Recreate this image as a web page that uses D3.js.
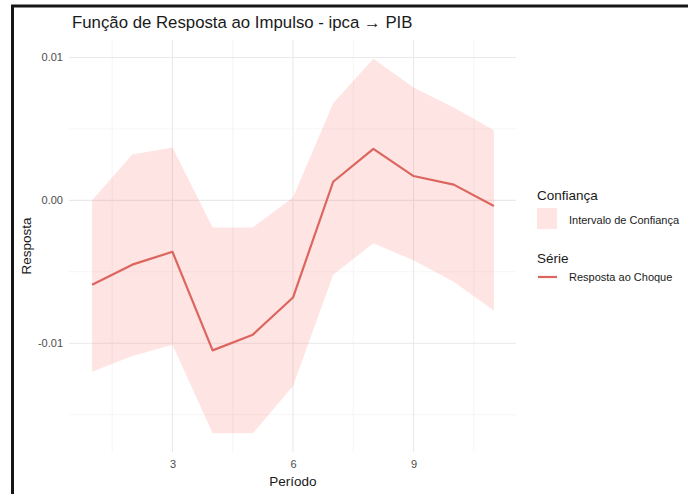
<!DOCTYPE html>
<html>
<head>
<meta charset="utf-8">
<script src="https://cdn.jsdelivr.net/npm/d3@7"></script>
<style>
  html, body { margin: 0; padding: 0; background: #fff; }
  svg { display: block; font-family: "Liberation Sans", Arial, sans-serif; }
</style>
</head>
<body>
<svg id="chart" width="688" height="494"></svg>
<script>
// Impulse response of PIB to an ipca shock, with confidence band
const periods  = [1, 2, 3, 4, 5, 6, 7, 8, 9, 10, 11];
const response = [-0.0059, -0.0045, -0.0036, -0.0105, -0.0094, -0.0068, 0.0013, 0.0036, 0.0017, 0.0011, -0.0004];
const upper    = [0.0000, 0.0032, 0.0037, -0.0019, -0.0019, 0.0002, 0.0068, 0.0099, 0.0079, 0.0065, 0.0049];
const lower    = [-0.0120, -0.0109, -0.0101, -0.0163, -0.0163, -0.0130, -0.0052, -0.0030, -0.0042, -0.0057, -0.0077];
const xTicks      = [3, 6, 9];
const xMinorTicks = [1.5, 4.5, 7.5, 10.5];
const yTicks      = [-0.01, 0, 0.01];
const yMinorTicks = [-0.015, -0.005, 0.005];

const svg = d3.select("#chart");
const W = 688, H = 494;

const lineColor = "#dc665f";
const bandColor = "#f8766d";

// outer frame (top and left edges)
svg.append("path")
  .attr("d", `M12.5,${H} L12.5,6 L${W},6`)
  .attr("fill", "none")
  .attr("stroke", "#161616")
  .attr("stroke-width", 3);

const panel = { left: 72, right: 514, top: 40, bottom: 452 };

const x = d3.scaleLinear().domain([0.5, 11.5]).range([panel.left, panel.right]);
const y = d3.scaleLinear().domain([-0.01761, 0.01122]).range([panel.bottom, panel.top]);

const locale = d3.formatLocale({ decimal: ".", thousands: ",", grouping: [3], currency: ["", ""], minus: "-" });
const fmt = locale.format(".2f");

const g = svg.append("g");

// grid lines
const gridL = panel.left - 3, gridR = panel.right + 2;
g.selectAll(".ymin").data(yMinorTicks).join("line")
  .attr("x1", gridL).attr("x2", gridR)
  .attr("y1", d => y(d)).attr("y2", d => y(d))
  .attr("stroke", "#f2f2f2").attr("stroke-width", 0.8);
g.selectAll(".xmin").data(xMinorTicks).join("line")
  .attr("x1", d => x(d)).attr("x2", d => x(d))
  .attr("y1", panel.top).attr("y2", panel.bottom)
  .attr("stroke", "#f2f2f2").attr("stroke-width", 0.8);
g.selectAll(".ymaj").data(yTicks).join("line")
  .attr("x1", gridL).attr("x2", gridR)
  .attr("y1", d => y(d)).attr("y2", d => y(d))
  .attr("stroke", "#e9e9e9").attr("stroke-width", 1.1);
g.selectAll(".xmaj").data(xTicks).join("line")
  .attr("x1", d => x(d)).attr("x2", d => x(d))
  .attr("y1", panel.top).attr("y2", panel.bottom)
  .attr("stroke", "#e9e9e9").attr("stroke-width", 1.1);

// confidence band
const band = periods.map((p, i) => ({ p, lo: lower[i], hi: upper[i] }));
g.append("path")
  .datum(band)
  .attr("d", d3.area().x(d => x(d.p)).y0(d => y(d.lo)).y1(d => y(d.hi)))
  .attr("fill", bandColor)
  .attr("fill-opacity", 0.2);

// response line
const pts = periods.map((p, i) => ({ p, v: response[i] }));
g.append("path")
  .datum(pts)
  .attr("d", d3.line().x(d => x(d.p)).y(d => y(d.v)))
  .attr("fill", "none")
  .attr("stroke", lineColor)
  .attr("stroke-width", 2.2)
  .attr("stroke-linejoin", "round");

// axes (labels only, as in a minimal theme)
const xAxis = svg.append("g")
  .attr("transform", `translate(0,${panel.bottom})`)
  .call(d3.axisBottom(x).tickValues(xTicks).tickFormat(d3.format("d")).tickSize(0).tickPadding(8));
xAxis.select(".domain").remove();
xAxis.selectAll("text").attr("fill", "#4d4d4d").attr("font-size", "11px")
  .attr("font-family", "Liberation Sans, Arial, sans-serif");

const yAxis = svg.append("g")
  .attr("transform", `translate(${panel.left - 6},0)`)
  .call(d3.axisLeft(y).tickValues(yTicks).tickFormat(fmt).tickSize(0).tickPadding(3));
yAxis.select(".domain").remove();
yAxis.selectAll("text").attr("fill", "#4d4d4d").attr("font-size", "11px")
  .attr("font-family", "Liberation Sans, Arial, sans-serif");

// titles
svg.append("text")
  .attr("x", 72).attr("y", 28)
  .attr("font-size", "16.8px").attr("fill", "#1a1a1a")
  .text("Função de Resposta ao Impulso - ipca → PIB");

svg.append("text")
  .attr("x", (panel.left + panel.right) / 2).attr("y", 486)
  .attr("text-anchor", "middle")
  .attr("font-size", "13.5px").attr("fill", "#1a1a1a")
  .text("Período");

svg.append("text")
  .attr("transform", `translate(31,${(panel.top + panel.bottom) / 2}) rotate(-90)`)
  .attr("text-anchor", "middle")
  .attr("font-size", "13.5px").attr("fill", "#1a1a1a")
  .text("Resposta");

// legend
const lg = svg.append("g").attr("transform", "translate(537,0)");
lg.append("text").attr("x", 0).attr("y", 200)
  .attr("font-size", "13.5px").attr("fill", "#1a1a1a").text("Confiança");
lg.append("rect").attr("x", 0).attr("y", 208).attr("width", 20).attr("height", 21)
  .attr("fill", bandColor).attr("fill-opacity", 0.2);
lg.append("text").attr("x", 32).attr("y", 223.5)
  .attr("font-size", "11px").attr("fill", "#1a1a1a").text("Intervalo de Confiança");

lg.append("text").attr("x", 0).attr("y", 263)
  .attr("font-size", "13.5px").attr("fill", "#1a1a1a").text("Série");
lg.append("line").attr("x1", 1).attr("x2", 20).attr("y1", 277).attr("y2", 277)
  .attr("stroke", lineColor).attr("stroke-width", 2.2);
lg.append("text").attr("x", 32).attr("y", 281)
  .attr("font-size", "11px").attr("fill", "#1a1a1a").text("Resposta ao Choque");
</script>
</body>
</html>
